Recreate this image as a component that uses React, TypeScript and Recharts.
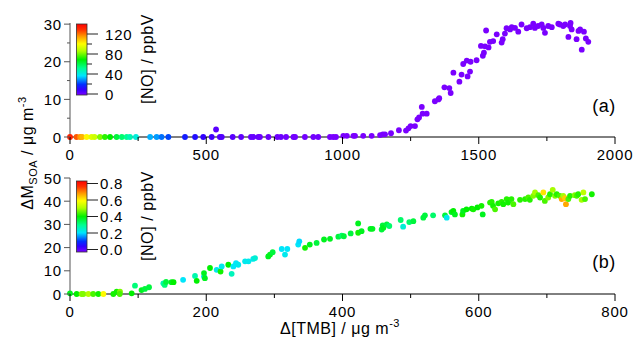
import React from 'react';
import { ScatterChart, Scatter, XAxis, YAxis } from 'recharts';

// panel (a): Δ[TMB] (µg m-3), ΔM_SOA (µg m-3), [NO] (ppbV)
const tmbA = [
  0, 24, 37, 45, 61, 79, 90, 110, 128, 147, 171, 190, 208, 220, 242, 294, 318, 336, 361, 422,
  459, 489, 520, 536, 550, 557, 597, 628, 664, 673, 691, 697, 728, 761, 774, 793, 820, 826, 862, 893,
  911, 954, 966, 976, 1003, 1016, 1040, 1046, 1076, 1107, 1138, 1148,
  1156, 1178, 1207, 1233, 1242, 1250, 1266, 1275, 1281, 1291, 1294, 1309, 1339, 1352, 1355, 1374, 1392, 1397,
  1407, 1429, 1437, 1443, 1456, 1459, 1468, 1470, 1492, 1515, 1519, 1508, 1523, 1527, 1536, 1541, 1553, 1566,
  1584, 1588, 1596, 1602, 1615, 1621, 1633, 1645, 1657, 1676, 1688, 1700, 1706, 1718, 1731, 1737, 1743, 1755,
  1768, 1792, 1798, 1810, 1817, 1829, 1835, 1837, 1841, 1859, 1866, 1872, 1878, 1886, 1893, 1902,
];
const soaA = [
  0, 0, 0, 0, 0, 0, 0, 0, 0, 0, 0, 0, 0, 0, 0, 0, 0, 0, 0, 0,
  0, 0, 0, 2.0, 0, 0, 0, 0, 0, 0, 0, 0, 0, 0, 0, 0, 0, 0, 0, 0,
  0, 0, 0, 0, 0.3, 0.3, 0.3, 0.3, 0.3, 0.3, 0.5, 0.7,
  0.7, 1.0, 1.8, 1.7, 2.3, 2.9, 2.9, 4.7, 5.2, 8.0, 6.2, 6.2, 9.5, 10.0, 10.3, 13.2, 13.0, 11.7,
  17.1, 14.7, 16.6, 19.4, 20.3, 16.1, 17.4, 20.0, 20.4, 21.6, 22.4, 24.2, 24.1, 28.3, 23.8, 25.3, 25.5, 27.3,
  25.1, 26.0, 27.5, 28.9, 28.6, 29.2, 29.0, 28.0, 29.9, 28.9, 29.2, 30.1, 29.0, 29.5, 29.9, 29.0, 27.7, 29.5,
  29.2, 30.1, 29.9, 29.5, 29.9, 26.6, 29.5, 30.3, 28.6, 26.0, 28.2, 28.6, 23.2, 28.0, 26.2, 25.3,
];
const noA = [
  132, 124, 116, 112, 102, 95, 92, 82, 74, 70, 63, 57, 53, 48, 43, 33, 31, 27, 23, 17,
  14, 11, 9, 5, 6, 6, 5, 4, 3, 3, 3, 2, 2, 2, 2, 1, 1, 1, 1, 1,
  1, 0, 0, 0, 0, 0, 0, 0, 0, 0, 0, 0,
  0, 0, 0, 0, 0, 0, 0, 0, 0, 0, 0, 0, 0, 0, 0, 0, 0, 0,
  0, 0, 0, 0, 0, 0, 0, 0, 0, 0, 0, 0, 0, 0, 0, 0, 0, 0,
  0, 0, 0, 0, 0, 0, 0, 0, 0, 0, 0, 0, 0, 0, 0, 0, 0, 0,
  0, 0, 0, 0, 0, 0, 0, 0, 0, 0, 0, 0, 0, 0, 0, 0,
];

// panel (b): low-NO experiment
const tmbB = [
  0, 9.8, 17, 19.6, 27, 34, 41.6, 49, 63.6, 68.5, 73.4, 73, 90.5, 95.4, 105, 110, 116, 137, 139, 141,
  149, 152, 166, 183.5, 186,
  196.7, 196.7, 198, 205.5, 215.3, 221, 222.7, 232.4, 237.3, 239.8, 243.7, 247, 257, 262, 269, 271.6, 291, 293.6, 297.5,
  310.8, 315.6, 319, 335, 336.6, 345, 352, 362, 372.9, 381.7, 393.9, 398.8, 402, 412, 423, 423, 428, 441, 444,
  457.5, 459, 460, 465, 468.7, 485.4, 489, 498, 504, 518.6, 521, 533, 550.5, 553, 560, 562.7, 565, 576, 577,
  582, 589.7, 592, 598, 605.8, 604, 616.6, 619, 621, 624, 628.7, 633.6, 636, 641, 643, 648, 650.8, 660.6, 668,
  672.8, 675, 680, 682.6, 687.5, 690, 694.8, 697, 702, 704.6, 708.6, 712, 714.5, 719, 721.8, 724, 726.7, 728,
  731.5, 734, 741, 743.8, 746, 751, 753.6, 756, 766,
];
const soaB = [
  0.3, 0, 0, 0, 0, 0, 0, 0, 0, 1.0, 1.0, 0, 0.3, 3.6, 1.7, 2.2, 2.9, 4.6, 3.9, 5.2,
  5.1, 5.1, 6.1, 7.8, 5.7,
  7.5, 9.0, 6.8, 11.2, 10.4, 9.7, 11.9, 12.6, 8.7, 11.9, 13.3, 12.6, 14.1, 14.1, 15.1, 15.5, 16.2, 17.0, 18.0,
  19.4, 17.0, 19.4, 21.3, 22.7, 19.9, 21.3, 22.0, 23.5, 23.8, 24.7, 25.2, 24.9, 26.1, 30.4, 26.4, 27.1, 28.1, 28.1,
  27.8, 29.6, 28.6, 30.0, 29.3, 31.9, 29.0, 31.0, 31.4, 32.9, 33.9, 33.9, 33.9, 32.9, 35.3, 35.8, 34.3, 34.3, 35.8,
  36.5, 36.8, 36.5, 37.3, 34.3, 38.0, 39.4, 39.7, 38.0, 36.5, 39.1, 39.7, 38.7, 40.9, 39.4, 40.9, 38.7, 40.6, 40.9,
  41.6, 40.6, 42.3, 43.8, 42.6, 41.6, 43.8, 40.1, 41.6, 43.0, 44.9, 42.3, 43.0, 42.3, 40.9, 42.3, 41.3, 38.7,
  40.9, 42.3, 42.6, 42.3, 43.0, 40.6, 43.8, 40.9, 43.0,
];
const noB = [
  0.38, 0.4, 0.47, 0.47, 0.5, 0.44, 0.41, 0.58, 0.41, 0.41, 0.47, 0.44, 0.4, 0.32, 0.38, 0.36, 0.36, 0.28, 0.32, 0.36,
  0.38, 0.4, 0.22, 0.28, 0.4,
  0.23, 0.38, 0.38, 0.4, 0.23, 0.41, 0.23, 0.4, 0.27, 0.22, 0.22, 0.23, 0.23, 0.23, 0.23, 0.25, 0.38, 0.38, 0.36,
  0.22, 0.23, 0.22, 0.22, 0.21, 0.41, 0.38, 0.36, 0.38, 0.38, 0.36, 0.33, 0.36, 0.36, 0.38, 0.41, 0.38, 0.38, 0.38,
  0.36, 0.36, 0.38, 0.36, 0.33, 0.33, 0.25, 0.33, 0.36, 0.36, 0.36, 0.33, 0.36, 0.23, 0.38, 0.4, 0.38, 0.41, 0.38,
  0.4, 0.4, 0.41, 0.4, 0.38, 0.41, 0.42, 0.42, 0.41, 0.44, 0.41, 0.42, 0.41, 0.42, 0.41, 0.42, 0.44, 0.42, 0.42,
  0.44, 0.42, 0.47, 0.49, 0.44, 0.42, 0.6, 0.44, 0.47, 0.42, 0.49, 0.47, 0.42, 0.44, 0.65, 0.49, 0.62, 0.65,
  0.44, 0.42, 0.47, 0.44, 0.42, 0.49, 0.51, 0.44, 0.41,
];

const xTicksA = [0, 250, 500, 750, 1000, 1250, 1500, 1750, 2000];
const xLabelsA = [0, 500, 1000, 1500, 2000];
const yTicksA = [0, 5, 10, 15, 20, 25, 30];
const yLabelsA = [0, 10, 20, 30];
const xTicksB = [0, 100, 200, 300, 400, 500, 600, 700, 800];
const xLabelsB = [0, 200, 400, 600, 800];
const yTicksB = [0, 10, 20, 30, 40, 50];
const yLabelsB = [0, 10, 20, 30, 40, 50];
const cbTicksA = [0, 20, 40, 60, 80, 100, 120];
const cbLabelsA = [0, 40, 80, 120];
const cbLabelsB = [0, 0.2, 0.4, 0.6, 0.8];
const noMaxA = 140;
const noMaxB = 0.8;

const FONT = 'Arial, "Liberation Sans", sans-serif';

// rainbow colour scale, 0 = violet, 1 = red
const stops: [number, string][] = [
  [0, '#7a00ff'], [0.08, '#3000ff'], [0.15, '#0030ff'], [0.27, '#00e5ff'], [0.38, '#00ff90'],
  [0.5, '#00f000'], [0.62, '#b0ff00'], [0.72, '#ffff00'], [0.82, '#ffa000'], [0.92, '#ff3000'], [1, '#ff0000'],
];

const hex = (c: string) => [1, 3, 5].map((i) => parseInt(c.slice(i, i + 2), 16));

function rainbow(f: number) {
  const t = Math.max(0, Math.min(1, f));
  for (let i = 1; i < stops.length; i++) {
    if (t <= stops[i][0]) {
      const [t0, c0] = stops[i - 1];
      const [t1, c1] = stops[i];
      const k = (t - t0) / (t1 - t0);
      const a = hex(c0);
      const b = hex(c1);
      const m = a.map((v, j) => Math.round(v + (b[j] - v) * k));
      return `rgb(${m[0]},${m[1]},${m[2]})`;
    }
  }
  return stops[stops.length - 1][1];
}

const dataA = tmbA.map((x, i) => ({ x, y: soaA[i], no: noA[i] }));
const dataB = tmbB.map((x, i) => ({ x, y: soaB[i], no: noB[i] }));

const makeDot = (max: number) => (props: any) => (
  <circle cx={props.cx} cy={props.cy} r={2.9} fill={rainbow(props.payload.no / max)} />
);

const makeXTick = (labels: number[]) => (props: any) => {
  const { x, y, payload } = props;
  const major = labels.includes(payload.value);
  return (
    <g>
      <line x1={x} x2={x} y1={y} y2={y + (major ? 7 : 4)} stroke="#000" />
      {major && (
        <text x={x} y={y + 23} textAnchor="middle" fontSize={15} letterSpacing={0.8} fill="#000" fontFamily={FONT}>
          {payload.value}
        </text>
      )}
    </g>
  );
};

const makeYTick = (labels: number[]) => (props: any) => {
  const { x, y, payload } = props;
  const major = labels.includes(payload.value);
  return (
    <g>
      <line x1={x - (major ? 6 : 3)} x2={x} y1={y} y2={y} stroke="#555" />
      {major && (
        <text x={x - 8} y={y + 5.5} textAnchor="end" fontSize={15} letterSpacing={0.8} fill="#000" fontFamily={FONT}>
          {payload.value}
        </text>
      )}
    </g>
  );
};

const ColorBar: React.FC<{
  id: string;
  top: number;
  bottom: number;
  y0: number;
  y1: number;
  v1: number;
  ticks: number[];
  labels: number[];
  labelX: number;
  fmt: (v: number) => string;
  titleY: number;
}> = ({ id, top, bottom, y0, y1, v1, ticks, labels, labelX, fmt, titleY }) => {
  const pos = (v: number) => y0 + (y1 - y0) * (v / v1);
  return (
    <g>
      <defs>
        <linearGradient id={id} x1="0" y1="1" x2="0" y2="0">
          {stops.map(([o, c]) => (
            <stop key={o} offset={o} stopColor={c} />
          ))}
        </linearGradient>
      </defs>
      <rect x={76.5} y={top} width={10.5} height={bottom - top} fill={`url(#${id})`} stroke="#333" strokeWidth={0.8} />
      {ticks.map((v) => {
        const major = labels.includes(v);
        return <line key={v} x1={87} x2={major ? 98 : 92} y1={pos(v)} y2={pos(v)} stroke="#222" />;
      })}
      {labels.map((v) => (
        <text key={v} x={labelX} y={pos(v) + 5.5} fontSize={15} letterSpacing={0.8} fill="#000" fontFamily={FONT}>
          {fmt(v)}
        </text>
      ))}
      <text
        x={153}
        y={titleY}
        transform={`rotate(-90 153 ${titleY})`}
        textAnchor="middle"
        fontSize={16}
        letterSpacing={0.6}
        fill="#000"
        fontFamily={FONT}
      >
        [NO] / ppbV
      </text>
    </g>
  );
};

const App: React.FC = () => {
  return (
    <div style={{ position: 'absolute', left: 0, top: 0, width: 635, height: 340, background: '#fff', fontFamily: FONT }}>
      <div style={{ position: 'absolute', left: 0, top: 0 }}>
        <ScatterChart width={635} height={170} margin={{ top: 23, right: 20, bottom: 13, left: 30 }}>
          <XAxis
            type="number"
            dataKey="x"
            domain={[0, 2000]}
            ticks={xTicksA}
            interval={0}
            height={20}
            tickSize={0}
            tickMargin={0}
            tickLine={false}
            axisLine={{ stroke: '#000' }}
            tick={makeXTick(xLabelsA)}
          />
          <YAxis
            type="number"
            dataKey="y"
            domain={[0, 30]}
            ticks={yTicksA}
            interval={0}
            width={40}
            tickSize={0}
            tickMargin={0}
            tickLine={false}
            axisLine={{ stroke: '#555' }}
            tick={makeYTick(yLabelsA)}
          />
          <Scatter data={dataA} shape={makeDot(noMaxA)} isAnimationActive={false} />
        </ScatterChart>
      </div>
      <div style={{ position: 'absolute', left: 0, top: 170 }}>
        <ScatterChart width={635} height={170} margin={{ top: 8, right: 20, bottom: 26, left: 30 }}>
          <XAxis
            type="number"
            dataKey="x"
            domain={[0, 800]}
            ticks={xTicksB}
            interval={0}
            height={20}
            tickSize={0}
            tickMargin={0}
            tickLine={false}
            axisLine={{ stroke: '#000' }}
            tick={makeXTick(xLabelsB)}
          />
          <YAxis
            type="number"
            dataKey="y"
            domain={[0, 50]}
            ticks={yTicksB}
            interval={0}
            width={40}
            tickSize={0}
            tickMargin={0}
            tickLine={false}
            axisLine={{ stroke: '#555' }}
            tick={makeYTick(yLabelsB)}
          />
          <Scatter data={dataB} shape={makeDot(noMaxB)} isAnimationActive={false} />
        </ScatterChart>
      </div>
      <svg width={635} height={340} style={{ position: 'absolute', left: 0, top: 0, pointerEvents: 'none' }}>
        <ColorBar
          id="cbA"
          top={24}
          bottom={95}
          y0={94}
          y1={34}
          v1={120}
          ticks={cbTicksA}
          labels={cbLabelsA}
          labelX={105}
          fmt={(v) => String(v)}
          titleY={59}
        />
        <ColorBar
          id="cbB"
          top={181}
          bottom={252}
          y0={249.5}
          y1={183.5}
          v1={0.8}
          ticks={cbLabelsB}
          labels={cbLabelsB}
          labelX={100}
          fmt={(v) => v.toFixed(1)}
          titleY={216}
        />
        <text x={604} y={112} textAnchor="middle" fontSize={18} letterSpacing={0.5} fill="#000" fontFamily={FONT}>
          (a)
        </text>
        <text x={604} y={268} textAnchor="middle" fontSize={18} letterSpacing={0.5} fill="#000" fontFamily={FONT}>
          (b)
        </text>
        <text
          x={33}
          y={153}
          transform="rotate(-90 33 153)"
          textAnchor="middle"
          fontSize={16}
          letterSpacing={0.5}
          fill="#000"
          fontFamily={FONT}
        >
          ΔM<tspan fontSize={11} dy={4}>SOA</tspan>
          <tspan dy={-4}> / μg m</tspan>
          <tspan fontSize={11} dy={-7}>-3</tspan>
        </text>
        <text x={340} y={334} textAnchor="middle" fontSize={16} letterSpacing={0.5} fill="#000" fontFamily={FONT}>
          Δ[TMB] / μg m<tspan fontSize={11} dy={-7}>-3</tspan>
        </text>
      </svg>
    </div>
  );
};

export default App;
